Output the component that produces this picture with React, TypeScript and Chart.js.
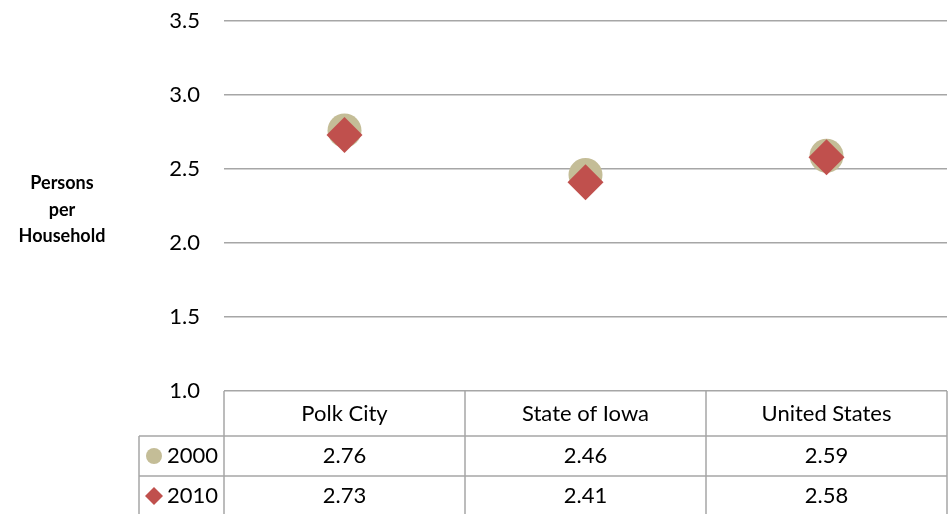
import React, { useEffect, useRef } from "react";
import { Chart, registerables } from "chart.js";

Chart.register(...registerables);

const categories = ["Polk City", "State of Iowa", "United States"];
const seriesNames = ["2000", "2010"];
const values2000 = [2.76, 2.46, 2.59];
const values2010 = [2.73, 2.41, 2.58];
const yTicks = [1.0, 1.5, 2.0, 2.5, 3.0, 3.5];
const yTitleLines = ["Persons", "per", "Household"];

const FONT = "Lato, 'Open Sans', 'Liberation Sans', sans-serif";
const GRID = "#A6A6A6";
const TAN = "#C4BD97";
const RED = "#C0504D";

const tablePlugin = {
  id: "dataTable",
  afterDraw(chart: any) {
    const ctx = chart.ctx;
    const area = chart.chartArea;
    const xs = chart.scales.x;
    const n = categories.length;
    const centers = categories.map((_, i) => xs.getPixelForValue(i));
    const bounds: number[] = [area.left];
    for (let i = 0; i < n - 1; i++) bounds.push((centers[i] + centers[i + 1]) / 2);
    bounds.push(area.right);

    const top = area.bottom;
    const headerH = 45;
    const rowH = 40;
    const r1 = top + headerH;
    const r2 = r1 + rowH;
    const bottom = chart.height + 5;
    const labelLeft = 139;

    ctx.save();
    ctx.strokeStyle = GRID;
    ctx.lineWidth = 1.5;
    ctx.beginPath();
    for (const b of bounds) {
      ctx.moveTo(b, top);
      ctx.lineTo(b, bottom);
    }
    ctx.moveTo(labelLeft, r1);
    ctx.lineTo(labelLeft, bottom);
    ctx.moveTo(labelLeft, r1);
    ctx.lineTo(area.right, r1);
    ctx.moveTo(labelLeft, r2);
    ctx.lineTo(area.right, r2);
    ctx.stroke();

    ctx.fillStyle = "#000";
    ctx.font = `22px ${FONT}`;
    ctx.textAlign = "center";
    ctx.textBaseline = "middle";
    categories.forEach((c, i) => ctx.fillText(c, centers[i], top + headerH / 2));
    const rows = [values2000, values2010];
    rows.forEach((vals, r) => {
      const cy = r1 + rowH * r + rowH / 2;
      vals.forEach((v, i) => ctx.fillText(v.toFixed(2), centers[i], cy));
      const mx = 154;
      ctx.fillStyle = r === 0 ? TAN : RED;
      ctx.beginPath();
      if (r === 0) {
        ctx.arc(mx, cy, 8, 0, Math.PI * 2);
      } else {
        const s = 9;
        ctx.moveTo(mx, cy - s);
        ctx.lineTo(mx + s, cy);
        ctx.lineTo(mx, cy + s);
        ctx.lineTo(mx - s, cy);
        ctx.closePath();
      }
      ctx.fill();
      ctx.fillStyle = "#000";
      ctx.textAlign = "left";
      ctx.fillText(seriesNames[r], 167, cy);
      ctx.textAlign = "center";
    });

    ctx.font = `bold 18px ${FONT}`;
    const midY = (area.top + area.bottom) / 2;
    const lh = 26.5;
    yTitleLines.forEach((t, i) => {
      ctx.fillText(t, 62, midY + 4 + (i - 1) * lh);
    });
    ctx.restore();
  },
};

export default function App() {
  const ref = useRef<HTMLCanvasElement>(null);
  useEffect(() => {
    document.body.style.margin = "0";
    const chart = new Chart(ref.current!, {
      type: "line",
      data: {
        labels: categories,
        datasets: [
          {
            label: seriesNames[0],
            data: values2000,
            showLine: false,
            pointStyle: "circle",
            pointRadius: 17,
            pointBackgroundColor: TAN,
            pointBorderColor: TAN,
            pointBorderWidth: 0,
            order: 2,
          },
          {
            label: seriesNames[1],
            data: values2010,
            showLine: false,
            pointStyle: "rectRot",
            pointRadius: 18,
            pointBackgroundColor: RED,
            pointBorderColor: RED,
            pointBorderWidth: 0,
            order: 1,
          },
        ],
      },
      options: {
        animation: false,
        responsive: false,
        maintainAspectRatio: false,
        layout: { autoPadding: false, padding: { left: 0, right: 3, top: 21, bottom: 123 } },
        plugins: { legend: { display: false }, tooltip: { enabled: false } },
        scales: {
          x: {
            type: "category",
            offset: true,
            display: false,
          },
          y: {
            min: yTicks[0],
            max: yTicks[yTicks.length - 1],
            afterBuildTicks: (s: any) => {
              s.ticks = yTicks.map((v) => ({ value: v }));
            },
            afterFit: (s: any) => {
              s.width = 224;
              s.paddingTop = 0;
              s.paddingBottom = 0;
            },
            ticks: {
              padding: 24,
              color: "#000",
              font: { family: FONT, size: 22 },
              callback: (v: any) => Number(v).toFixed(1),
            },
            grid: { color: GRID, lineWidth: 1.5, drawTicks: false },
            border: { display: false },
          },
        },
      },
      plugins: [tablePlugin],
    });
    return () => chart.destroy();
  }, []);
  return (
    <div style={{ width: 950, height: 514 }}>
      <canvas ref={ref} width={950} height={514} style={{ display: "block" }} />
    </div>
  );
}
